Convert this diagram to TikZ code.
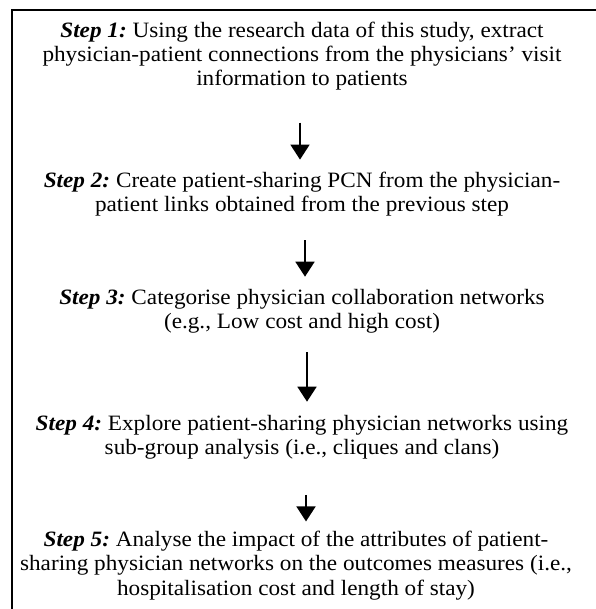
\documentclass[tikz,border=0pt]{standalone}
\usepackage{fontspec}
\setmainfont[FakeStretch=1.06]{Liberation Serif}
\usetikzlibrary{arrows.meta}
\tikzset{
  stepbox/.style={inner sep=0pt, align=center, font=\fontsize{21.9}{24.3}\selectfont},
  flowarrow/.style={line width=1.8pt, -{Triangle[width=19pt,length=15pt]}},
  frame/.style={line width=1.5pt}
}
\newcommand{\stp}[1]{\textit{\textbf{Step #1:}}}
\begin{document}
\frenchspacing
\begin{tikzpicture}[x=1pt,y=1pt]
\useasboundingbox (0,0) rectangle (595,609);
\draw[frame] (12,-5) -- (12,599) -- (605,599);
\node[stepbox] (s1) at (302,553) {\stp{1} Using the research data of this study, extract\\physician-patient connections from the physicians' visit\\information to patients};
\node[stepbox] (s2) at (302,415) {\stp{2} Create patient-sharing PCN from the physician-\\patient links obtained from the previous step};
\node[stepbox] (s3) at (302,298) {\stp{3} Categorise physician collaboration networks\\(e.g., Low cost and high cost)};
\node[stepbox] (s4) at (302,171.5) {\stp{4} Explore patient-sharing physician networks using\\sub-group analysis (i.e., cliques and clans)};
\node[stepbox] (s5) at (296,43.5) {\stp{5} Analyse the impact of the attributes of patient-\\sharing physician networks on the outcomes measures (i.e.,\\hospitalisation cost and length of stay)};
\draw[flowarrow, shorten <=32pt, shorten >=12pt] ([xshift=-2pt]s1.south) -- ([xshift=-2pt]s1.south |- s2.north);
\draw[flowarrow, shorten <=24pt, shorten >=12pt] ([xshift=3pt]s2.south) -- ([xshift=3pt]s2.south |- s3.north);
\draw[flowarrow, shorten <=19pt, shorten >=13.5pt] ([xshift=5pt]s3.south) -- ([xshift=5pt]s3.south |- s4.north);
\draw[flowarrow, shorten <=35pt, shorten >=9.5pt] ([xshift=4pt]s4.south) -- ([xshift=4pt]s4.south |- s5.north);
\end{tikzpicture}
\end{document}
